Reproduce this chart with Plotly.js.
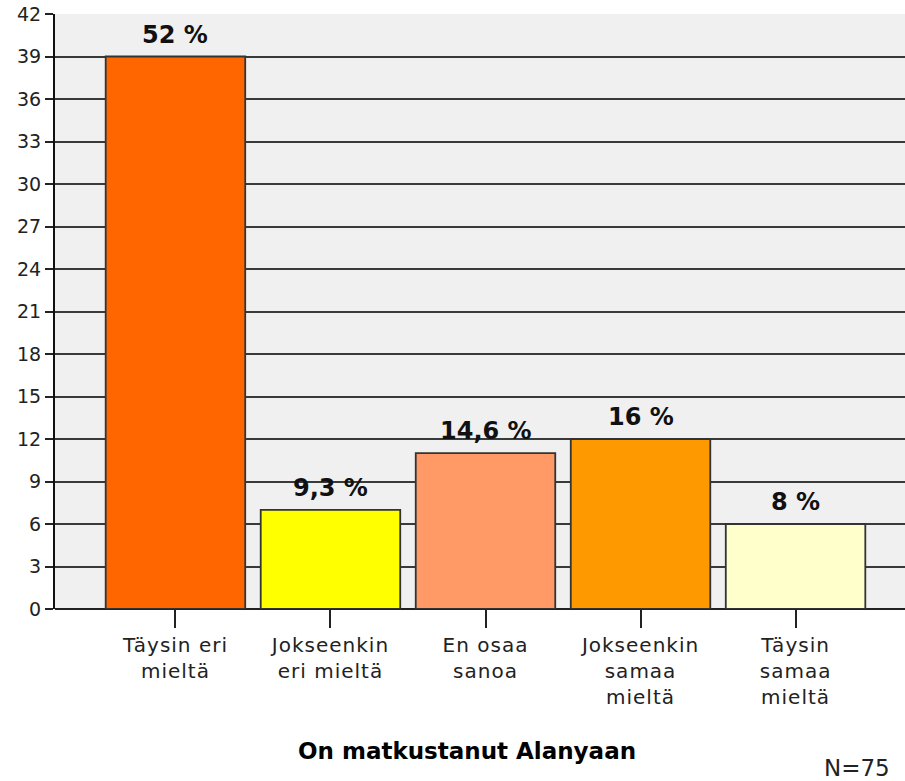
<!DOCTYPE html>
<html><head><meta charset="utf-8">
<script src="https://cdn.plot.ly/plotly-3.0.1.min.js"></script>
<style>html,body{margin:0;padding:0;background:#fff}#c{width:905px;height:781px}
.xtick text{letter-spacing:1px}</style>
</head><body><div id="c"></div>
<script>
const categories = ["Täysin eri<br>mieltä", "Jokseenkin<br>eri mieltä", "En osaa<br>sanoa", "Jokseenkin<br>samaa<br>mieltä", "Täysin<br>samaa<br>mieltä"];
const counts = [39, 7, 11, 12, 6];
const percentLabels = ["52 %", "9,3 %", "14,6 %", "16 %", "8 %"];
const barColors = ["#FF6600", "#FFFF00", "#FF9966", "#FF9900", "#FFFFCC"];
const yTicks = [0,3,6,9,12,15,18,21,24,27,30,33,36,39,42];

const xs = categories.map((c,i)=>i);
const trace = {
  type: "bar",
  x: xs,
  y: counts,
  marker: {color: barColors, line: {color: "#333", width: 1.8}},
  hoverinfo: "none"
};
const labelAnns = xs.map((x,i)=>({
  x: x, y: counts[i], xref: "x", yref: "y",
  text: "<b>" + percentLabels[i] + "</b>",
  showarrow: false, yanchor: "bottom", xanchor: "center", yshift: 6,
  font: {family: "DejaVu Sans, sans-serif", size: 24, color: "#111"}
}));
const layout = {
  width: 905, height: 781,
  margin: {l: 55, r: 0, t: 14, b: 172},
  paper_bgcolor: "#fff",
  plot_bgcolor: "#F0F0F0",
  bargap: 0.1,
  showlegend: false,
  font: {family: "DejaVu Sans, sans-serif", color: "#222"},
  xaxis: {
    range: [-0.777, 4.706],
    tickvals: xs,
    ticktext: categories,
    ticks: "outside", ticklen: 18, tickwidth: 2, tickcolor: "#222",
    tickfont: {size: 20, family: "DejaVu Sans, sans-serif", color: "#222"},
    showgrid: false, zeroline: false, showline: false
  },
  yaxis: {
    range: [0, 42],
    tickvals: yTicks,
    ticks: "outside", ticklen: 8, tickwidth: 2, tickcolor: "#222",
    tickfont: {size: 19, family: "DejaVu Sans, sans-serif", color: "#222"},
    showgrid: true, gridcolor: "#3a3a3a", gridwidth: 2,
    zeroline: true, zerolinecolor: "#222", zerolinewidth: 2,
    showline: true, linecolor: "#111", linewidth: 2
  },
  annotations: labelAnns.concat([
    {text: "<b>On matkustanut Alanyaan</b>", xref: "paper", yref: "paper", x: 0.485, y: -0.239, xanchor: "center", yanchor: "middle", showarrow: false, font: {size: 23, family: "DejaVu Sans, sans-serif", color: "#000"}},
    {text: "N=75", xref: "paper", yref: "paper", x: 0.944, y: -0.267, xanchor: "center", yanchor: "middle", showarrow: false, font: {size: 23, family: "DejaVu Sans, sans-serif", color: "#222"}}
  ])
};
Plotly.newPlot("c", [trace], layout, {displayModeBar: false, staticPlot: true});
</script></body></html>
